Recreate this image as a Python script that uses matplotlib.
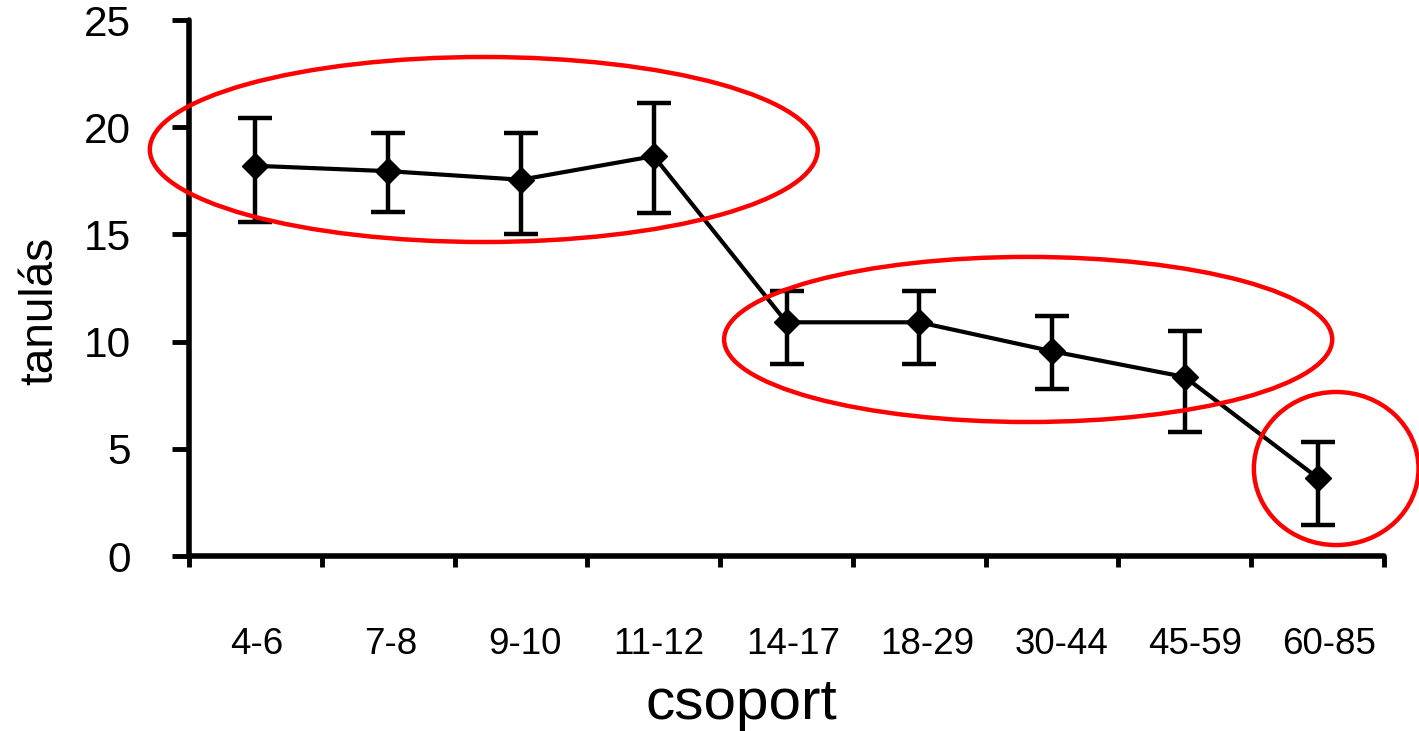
import matplotlib
matplotlib.use("Agg")
import matplotlib.pyplot as plt
from matplotlib.patches import Ellipse
from matplotlib.transforms import ScaledTranslation
import numpy as np

plt.rcParams['font.family'] = ['Liberation Sans', 'DejaVu Sans']

groups = ['4-6', '7-8', '9-10', '11-12', '14-17', '18-29', '30-44', '45-59', '60-85']
means = [18.2, 17.95, 17.55, 18.65, 10.9, 10.9, 9.55, 8.35, 3.65]
upper = [20.45, 19.75, 19.75, 21.15, 12.35, 12.35, 11.2, 10.5, 5.3]
lower = [15.6, 16.05, 15.0, 16.0, 8.95, 8.95, 7.8, 5.8, 1.45]

# red ellipses around the three clusters: (center x, center y, width, height) in data units
circles = [(1.72, 18.96, 5.03, 8.63), (5.82, 10.10, 4.58, 7.70), (8.14, 4.08, 1.24, 7.14)]

x = np.arange(len(groups))
m = np.array(means)
yerr = [m - np.array(lower), np.array(upper) - m]

fig = plt.figure(figsize=(14.19, 7.31), dpi=100)
ax = fig.add_axes([189 / 1419, 1 - 556 / 731, (1384 - 189) / 1419, (556 - 20) / 731])

ax.errorbar(x, m, yerr=yerr, color='black', lw=3, marker='D', ms=13,
            capsize=12, capthick=3.2, elinewidth=3.2, zorder=3)

for cx, cy, w, h in circles:
    ax.add_patch(Ellipse((cx, cy), w, h, fill=False, edgecolor='#ff0000', lw=3.2,
                         clip_on=False, zorder=4))

ax.set_xlim(-0.5, len(groups) - 0.5)
ax.set_ylim(0, 25)
ax.set_yticks([0, 5, 10, 15, 20, 25])
ax.set_xticks(np.arange(len(groups) + 1) - 0.5)
ax.set_xticklabels([])
ax.tick_params(axis='x', which='major', length=8, width=3.5, direction='out')
ax.tick_params(axis='y', length=12, width=3.5, labelsize=30.5, pad=30)

# category labels, drawn well below the axis and spread a touch wider than the points
for i, g in enumerate(groups):
    off = ScaledTranslation((1.5 + 1.3 * i) / 100, -0.98, fig.dpi_scale_trans)
    ax.text(x[i], 0, g, transform=ax.get_xaxis_transform() + off,
            ha='center', va='baseline', fontsize=26.5)

for s in ['top', 'right']:
    ax.spines[s].set_visible(False)
for s in ['left', 'bottom']:
    ax.spines[s].set_linewidth(4)
    ax.spines[s].set_capstyle('round')

fig.text(40 / 1419, 1 - 311 / 731, 'tanulás', rotation=90, ha='center', va='center',
         fontsize=33)
fig.text(741 / 1419, 1 - 719 / 731, 'csoport', ha='center', va='baseline', fontsize=42)

fig.savefig('out.png', dpi=100)
